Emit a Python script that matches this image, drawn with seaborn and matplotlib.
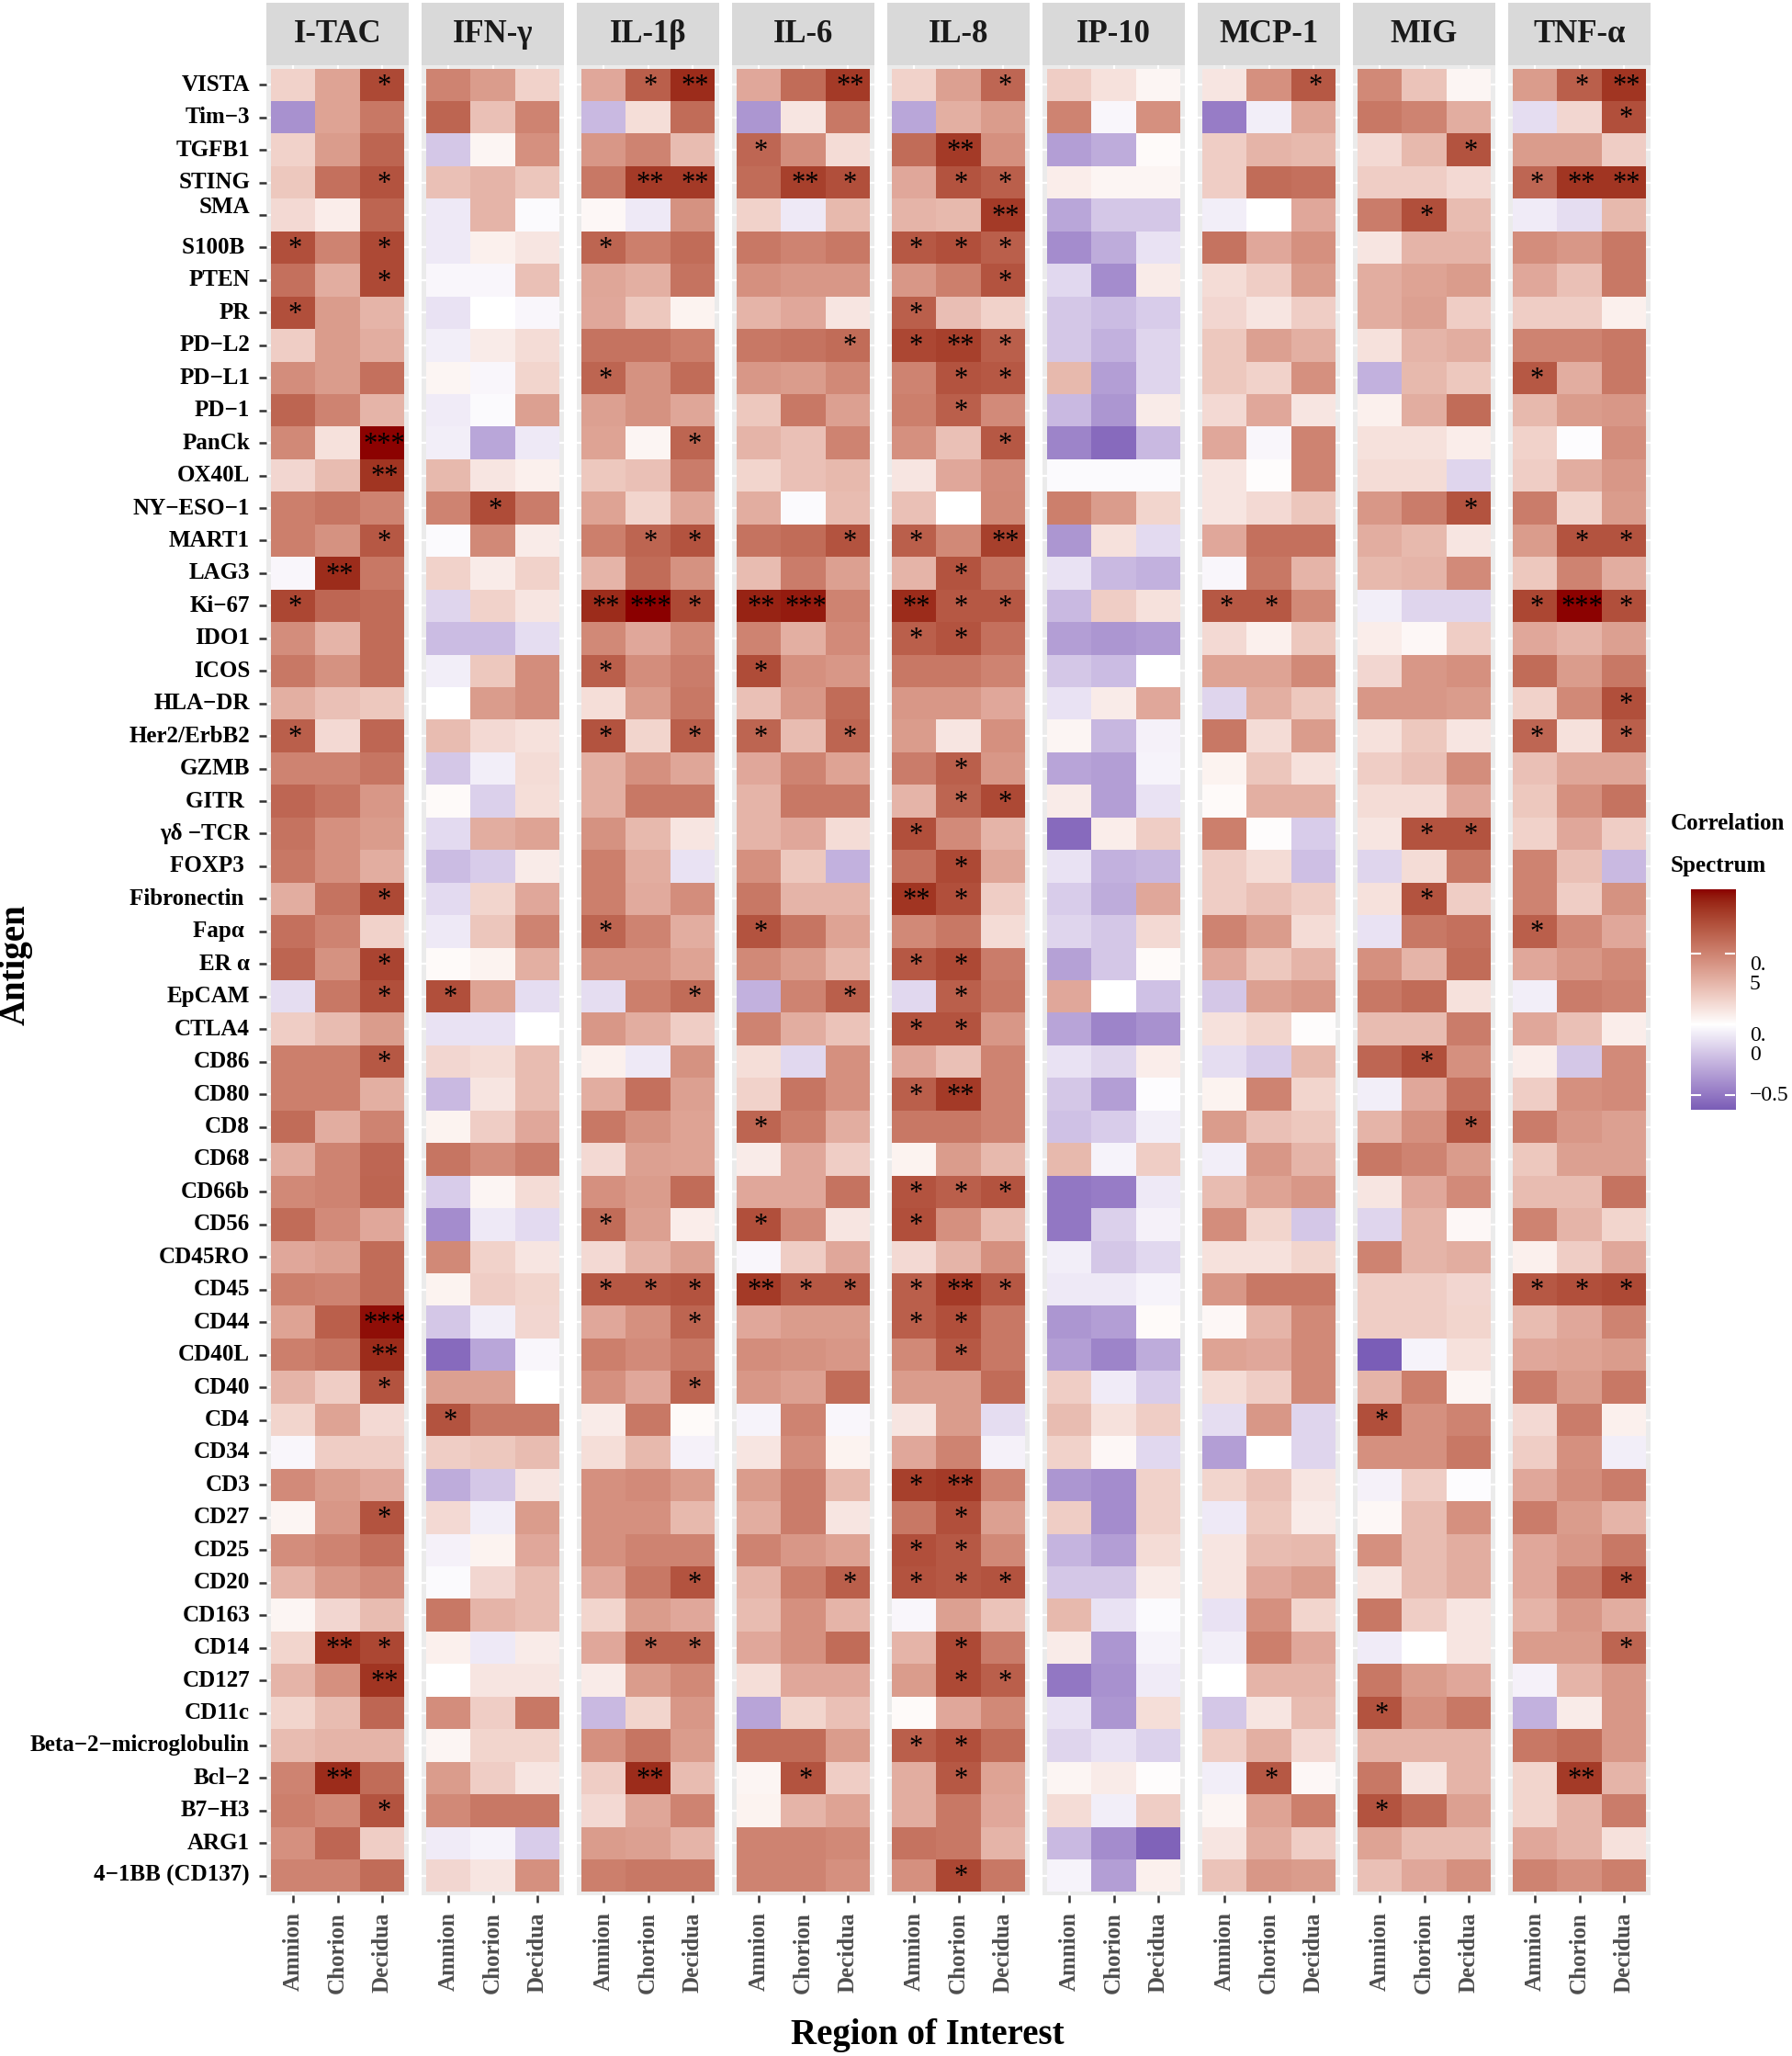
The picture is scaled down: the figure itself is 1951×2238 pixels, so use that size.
import numpy as np
import pandas as pd
import matplotlib
matplotlib.use("Agg")
import matplotlib.pyplot as plt
import matplotlib.colors as mcolors
import matplotlib.transforms as mtransforms
import seaborn as sns

antigens = ["VISTA", "Tim−3", "TGFB1", "STING", "SMA", "S100B ", "PTEN", "PR", "PD−L2", "PD−L1",
            "PD−1", "PanCk", "OX40L", "NY−ESO−1", "MART1", "LAG3", "Ki−67", "IDO1", "ICOS", "HLA−DR",
            "Her2/ErbB2", "GZMB", "GITR ", "γδ −TCR", "FOXP3 ", "Fibronectin ", "Fapα ", "ER α", "EpCAM",
            "CTLA4", "CD86", "CD80", "CD8", "CD68", "CD66b", "CD56", "CD45RO", "CD45", "CD44", "CD40L",
            "CD40", "CD4", "CD34", "CD3", "CD27", "CD25", "CD20", "CD163", "CD14", "CD127", "CD11c",
            "Beta−2−microglobulin", "Bcl−2", "B7−H3", "ARG1", "4−1BB (CD137)"]
regions = ["Amnion", "Chorion", "Decidua"]
cytokines = ["I-TAC", "IFN-γ", "IL-1β", "IL-6", "IL-8", "IP-10", "MCP-1", "MIG", "TNF-α"]

# correlation values, rows top to bottom (VISTA ... 4-1BB)
itac_amnion = [.18, -.40, .18, .22, .15, .72, .58, .72, .20, .46, .63, .48, .16, .52, .52, -.03, .75, .46, .55, .32, .65, .50, .62, .57, .55, .33, .58, .63,
               -.12, .20, .52, .52, .60, .33, .48, .60, .35, .52, .37, .52, .30, .17, -.03, .47, .04, .46, .30, .04, .17, .30, .17, .27, .50, .52, .45, .50]
itac_chorion = [.37, .37, .40, .58, .07, .50, .33, .40, .40, .40, .50, .12, .27, .56, .44, .85, .62, .30, .44, .25, .15, .50, .56, .45, .45, .57, .50, .44,
                .55, .27, .52, .52, .33, .50, .50, .47, .38, .50, .65, .56, .20, .37, .20, .40, .42, .50, .42, .16, .82, .45, .27, .30, .85, .48, .62, .50]
itac_decidua = [.74, .55, .63, .70, .63, .74, .74, .30, .33, .58, .30, .95, .82, .50, .68, .55, .60, .60, .60, .22, .62, .56, .42, .40, .33, .74, .18, .76,
                .72, .40, .68, .32, .50, .62, .63, .35, .60, .60, .93, .85, .70, .15, .20, .35, .70, .58, .47, .27, .75, .82, .62, .30, .60, .70, .20, .60]

ifng_amnion = [.50, .63, -.20, .25, -.08, -.08, -.03, -.10, -.06, .04, -.07, -.06, .28, .50, -.02, .18, -.15, -.24, -.06, .00, .27, -.20, .02, -.13, -.24, -.13, -.08, .02,
               .72, -.10, .16, -.25, .05, .56, -.18, -.42, .48, .05, -.20, -.55, .38, .70, .20, -.30, .15, -.05, -.02, .55, .06, .00, .46, .04, .40, .48, -.07, .16]
ifng_chorion = [.40, .25, .04, .30, .30, .06, -.03, .00, .08, -.03, -.02, -.32, .10, .73, .48, .08, .18, -.24, .22, .40, .15, -.06, -.17, .33, -.18, .17, .23, .05,
                .37, -.10, .14, .10, .20, .46, .04, -.08, .18, .20, -.06, -.32, .38, .55, .22, -.20, -.06, .05, .16, .30, -.08, .10, .20, .17, .20, .55, -.04, .10]
ifng_decidua = [.18, .50, .45, .23, -.02, .10, .25, -.03, .14, .17, .38, -.08, .06, .53, .08, .18, .10, -.12, .46, .46, .12, .14, .13, .37, .08, .35, .50, .32,
                -.12, .00, .27, .27, .35, .53, .14, -.13, .10, .17, .16, -.03, .00, .55, .27, .10, .40, .35, .27, .27, .08, .10, .55, .17, .10, .55, -.18, .45]

il1b_amnion = [.35, -.25, .42, .55, .03, .63, .36, .35, .57, .63, .38, .37, .22, .37, .52, .30, .85, .48, .65, .13, .70, .32, .32, .44, .52, .52, .63, .45,
               -.12, .42, .06, .33, .55, .15, .45, .60, .15, .68, .35, .52, .45, .08, .13, .45, .45, .45, .35, .17, .35, .08, -.25, .45, .20, .15, .40, .52]
il1b_chorion = [.65, .13, .50, .80, -.08, .52, .32, .22, .57, .44, .44, .04, .25, .17, .63, .60, .956, .35, .46, .40, .17, .45, .55, .28, .33, .34, .50, .45,
                .52, .33, -.08, .58, .44, .38, .40, .38, .30, .68, .45, .47, .35, .55, .28, .47, .45, .50, .55, .40, .63, .40, .17, .56, .85, .36, .38, .55]
il1b_decidua = [.85, .60, .27, .80, .44, .60, .57, .05, .52, .60, .36, .63, .53, .36, .70, .44, .74, .48, .53, .55, .65, .36, .55, .10, -.10, .46, .33, .37,
                .60, .20, .44, .38, .37, .37, .60, .07, .38, .70, .63, .55, .63, .02, -.05, .40, .28, .50, .70, .35, .63, .48, .42, .40, .27, .50, .30, .55]

il6_amnion = [.35, -.38, .62, .60, .18, .55, .45, .30, .55, .42, .22, .30, .17, .33, .57, .27, .88, .50, .73, .25, .63, .35, .30, .30, .45, .55, .70, .48,
              -.28, .50, .13, .18, .63, .08, .35, .72, -.03, .80, .35, .46, .42, -.04, .10, .40, .33, .50, .30, .27, .35, .13, -.33, .60, .04, .05, .50, .50]
il6_chorion = [.60, .10, .46, .78, -.08, .50, .42, .35, .57, .40, .55, .25, .25, -.02, .60, .53, .90, .32, .45, .42, .27, .50, .55, .35, .22, .30, .56, .40,
               .50, .33, -.14, .56, .52, .35, .35, .47, .20, .68, .40, .44, .38, .50, .46, .53, .53, .42, .52, .45, .45, .35, .17, .60, .70, .30, .50, .50]
il6_decidua = [.80, .55, .14, .72, .28, .55, .42, .10, .60, .48, .38, .50, .28, .27, .70, .38, .50, .47, .42, .60, .63, .37, .55, .14, -.28, .30, .37, .28,
               .65, .24, .45, .45, .33, .20, .57, .10, .35, .68, .40, .42, .60, -.03, .05, .28, .10, .37, .65, .30, .60, .35, .25, .40, .20, .37, .48, .45]

il8_amnion = [.18, -.32, .60, .35, .30, .68, .42, .65, .75, .50, .52, .45, .10, .25, .65, .30, .85, .65, .55, .42, .40, .53, .30, .72, .58, .82, .48, .68,
              -.14, .70, .35, .65, .55, .05, .70, .72, .15, .65, .65, .48, .40, .10, .35, .78, .55, .72, .70, -.03, .30, .40, .02, .65, .33, .33, .57, .45]
il8_chorion = [.38, .32, .80, .70, .28, .72, .52, .26, .78, .70, .65, .25, .35, .00, .48, .70, .68, .70, .55, .42, .10, .65, .63, .47, .74, .72, .55, .74,
               .65, .70, .25, .80, .55, .40, .65, .45, .30, .80, .72, .68, .40, .40, .50, .80, .72, .68, .68, .38, .74, .74, .35, .72, .68, .55, .55, .75]
il8_decidua = [.62, .40, .45, .65, .80, .65, .70, .18, .65, .68, .47, .68, .47, .48, .78, .56, .68, .58, .50, .35, .45, .42, .74, .30, .36, .20, .14, .53,
               .55, .42, .50, .50, .50, .28, .70, .27, .45, .68, .55, .55, .60, -.12, -.05, .50, .38, .48, .70, .24, .53, .65, .48, .60, .37, .35, .30, .55]

ip10_amnion = [.20, .50, -.35, .07, -.32, -.42, -.14, -.20, -.20, .28, -.25, -.45, -.02, .52, -.38, -.10, -.25, -.35, -.20, -.10, .04, -.33, .08, -.55, -.10, -.18, -.15, -.34,
               .35, -.33, -.10, -.20, -.22, .28, -.50, -.50, -.06, -.08, -.38, -.35, .20, .27, .18, -.38, .20, -.27, -.20, .28, .08, -.50, -.10, -.15, .04, .14, -.25, -.04]
ip10_chorion = [.12, -.03, -.30, .04, -.20, -.30, -.42, -.24, -.28, -.35, -.38, -.55, -.02, .40, .12, -.25, .20, -.38, -.24, .08, -.26, -.35, -.35, .07, -.28, -.30, -.20, -.20,
                .00, -.45, -.15, -.35, -.18, -.04, -.48, -.17, -.20, -.08, -.35, -.45, -.07, .12, .03, -.42, -.42, -.35, -.20, -.10, -.38, -.40, -.38, -.10, .08, -.06, -.42, -.35]
ip10_decidua = [.04, .45, .02, .04, -.20, -.10, .08, -.18, -.15, -.15, .08, -.25, -.02, .17, -.13, -.28, .12, -.36, .00, .35, -.05, -.04, -.10, .20, -.26, .35, .15, .02,
                -.22, -.40, .07, -.01, -.06, .20, -.08, -.05, -.14, -.04, .02, -.30, -.18, .20, -.14, .18, .18, .14, .08, -.02, -.04, -.07, .13, -.16, .01, .20, -.58, .06]

mcp1_amnion = [.10, -.48, .20, .20, -.06, .57, .14, .16, .22, .22, .15, .35, .10, .10, .35, -.03, .68, .15, .37, -.15, .55, .05, .02, .52, .20, .20, .50, .35,
               -.20, .12, -.12, .05, .40, -.06, .27, .46, .12, .42, .03, .37, .14, -.12, -.35, .17, -.08, .10, .10, -.10, -.06, .00, -.20, .20, -.06, .04, .10, .24]
mcp1_chorion = [.45, -.06, .30, .60, .00, .35, .20, .10, .38, .18, .35, -.03, .01, .15, .58, .55, .68, .06, .37, .32, .14, .23, .32, .01, .14, .25, .40, .22,
                .38, .17, -.18, .50, .25, .42, .37, .17, .12, .55, .30, .35, .20, .42, .00, .25, .22, .27, .35, .45, .52, .30, .10, .32, .68, .37, .33, .42]
mcp1_decidua = [.68, .36, .28, .58, .35, .45, .40, .20, .32, .45, .10, .50, .50, .23, .58, .30, .48, .22, .48, .22, .40, .12, .32, -.18, -.23, .20, .14, .30,
                .42, .01, .28, .17, .22, .30, .42, -.20, .17, .55, .48, .48, .48, -.15, -.15, .10, .08, .28, .40, .17, .35, .30, .27, .15, .03, .52, .20, .40]

mig_amnion = [.48, .55, .15, .20, .53, .10, .33, .33, .12, -.28, .06, .12, .14, .42, .33, .28, -.06, .07, .16, .42, .12, .20, .14, .10, -.15, .12, -.10, .45,
              .55, .27, .62, -.06, .30, .55, .10, -.15, .50, .20, .20, -.602, .30, .72, .45, -.05, .03, .45, .10, .55, -.07, .55, .70, .30, .55, .70, .37, .25]
mig_chorion = [.24, .50, .28, .20, .72, .30, .37, .38, .30, .28, .33, .12, .14, .53, .28, .30, -.15, .03, .42, .42, .22, .25, .14, .70, .14, .70, .55, .30,
               .60, .27, .72, .35, .45, .50, .35, .30, .30, .20, .20, -.04, .52, .45, .45, .20, .27, .27, .27, .20, .00, .40, .45, .30, .10, .60, .27, .35]
mig_decidua = [.04, .33, .70, .15, .27, .30, .40, .20, .33, .22, .60, .07, -.15, .70, .10, .47, -.15, .20, .45, .40, .10, .46, .35, .70, .55, .20, .58, .60,
               .12, .53, .45, .58, .68, .40, .47, .03, .33, .16, .17, .12, .04, .50, .55, -.01, .45, .33, .33, .10, .10, .35, .55, .30, .30, .38, .27, .45]

tnfa_amnion = [.40, -.12, .40, .62, -.07, .46, .35, .20, .50, .68, .28, .18, .20, .53, .40, .22, .75, .35, .60, .18, .62, .25, .22, .18, .50, .50, .65, .35,
               -.06, .35, .07, .20, .53, .22, .27, .50, .06, .68, .27, .35, .53, .15, .20, .35, .53, .35, .35, .30, .40, -.05, -.28, .55, .17, .17, .35, .50]
tnfa_chorion = [.65, .16, .40, .82, -.12, .42, .25, .20, .50, .33, .40, -.01, .33, .17, .70, .50, .95, .30, .40, .48, .12, .36, .45, .35, .25, .20, .47, .42,
                .53, .25, -.20, .45, .42, .38, .27, .30, .20, .72, .35, .37, .40, .53, .45, .46, .40, .42, .53, .42, .40, .30, .08, .60, .80, .30, .30, .45]
tnfa_decidua = [.82, .72, .20, .82, .28, .55, .55, .06, .55, .55, .42, .46, .42, .40, .70, .33, .72, .38, .55, .72, .65, .36, .57, .20, -.25, .44, .35, .48,
                .50, .07, .47, .47, .38, .38, .57, .17, .35, .74, .50, .40, .55, .06, -.06, .53, .30, .55, .70, .33, .63, .42, .42, .42, .30, .53, .12, .52]

# significance marks (antigen, region, stars)
itac_stars = [("VISTA", "Decidua", "*"), ("STING", "Decidua", "*"), ("S100B", "Amnion", "*"), ("S100B", "Decidua", "*"),
              ("PTEN", "Decidua", "*"), ("PR", "Amnion", "*"), ("PanCk", "Decidua", "***"), ("OX40L", "Decidua", "**"),
              ("MART1", "Decidua", "*"), ("LAG3", "Chorion", "**"), ("Ki-67", "Amnion", "*"), ("Her2/ErbB2", "Amnion", "*"),
              ("Fibronectin", "Decidua", "*"), ("ER α", "Decidua", "*"), ("EpCAM", "Decidua", "*"), ("CD86", "Decidua", "*"),
              ("CD44", "Decidua", "***"), ("CD40L", "Decidua", "**"), ("CD40", "Decidua", "*"), ("CD27", "Decidua", "*"),
              ("CD14", "Chorion", "**"), ("CD14", "Decidua", "*"), ("CD127", "Decidua", "**"), ("Bcl-2", "Chorion", "**"),
              ("B7-H3", "Decidua", "*")]
ifng_stars = [("NY-ESO-1", "Chorion", "*"), ("EpCAM", "Amnion", "*"), ("CD4", "Amnion", "*")]
il1b_stars = [("VISTA", "Chorion", "*"), ("VISTA", "Decidua", "**"), ("STING", "Chorion", "**"), ("STING", "Decidua", "**"),
              ("S100B", "Amnion", "*"), ("PD-L1", "Amnion", "*"), ("PanCk", "Decidua", "*"), ("MART1", "Chorion", "*"),
              ("MART1", "Decidua", "*"), ("Ki-67", "Amnion", "**"), ("Ki-67", "Chorion", "***"), ("Ki-67", "Decidua", "*"),
              ("ICOS", "Amnion", "*"), ("Her2/ErbB2", "Amnion", "*"), ("Her2/ErbB2", "Decidua", "*"), ("Fapα", "Amnion", "*"),
              ("EpCAM", "Decidua", "*"), ("CD56", "Amnion", "*"), ("CD45", "Amnion", "*"), ("CD45", "Chorion", "*"),
              ("CD45", "Decidua", "*"), ("CD44", "Decidua", "*"), ("CD40", "Decidua", "*"), ("CD20", "Decidua", "*"),
              ("CD14", "Chorion", "*"), ("CD14", "Decidua", "*"), ("Bcl-2", "Chorion", "**")]
il6_stars = [("VISTA", "Decidua", "**"), ("TGFB1", "Amnion", "*"), ("STING", "Chorion", "**"), ("STING", "Decidua", "*"),
             ("PD-L2", "Decidua", "*"), ("MART1", "Decidua", "*"), ("Ki-67", "Amnion", "**"), ("Ki-67", "Chorion", "***"),
             ("ICOS", "Amnion", "*"), ("Her2/ErbB2", "Amnion", "*"), ("Her2/ErbB2", "Decidua", "*"), ("Fapα", "Amnion", "*"),
             ("EpCAM", "Decidua", "*"), ("CD8", "Amnion", "*"), ("CD56", "Amnion", "*"), ("CD45", "Amnion", "**"),
             ("CD45", "Chorion", "*"), ("CD45", "Decidua", "*"), ("CD20", "Decidua", "*"), ("Bcl-2", "Chorion", "*")]
il8_stars = [("VISTA", "Decidua", "*"), ("TGFB1", "Chorion", "**"), ("STING", "Chorion", "*"), ("STING", "Decidua", "*"),
             ("SMA", "Decidua", "**"), ("S100B", "Amnion", "*"), ("S100B", "Chorion", "*"), ("S100B", "Decidua", "*"),
             ("PTEN", "Decidua", "*"), ("PR", "Amnion", "*"), ("PD-L2", "Amnion", "*"), ("PD-L2", "Chorion", "**"),
             ("PD-L2", "Decidua", "*"), ("PD-L1", "Chorion", "*"), ("PD-L1", "Decidua", "*"), ("PD-1", "Chorion", "*"),
             ("PanCk", "Decidua", "*"), ("MART1", "Amnion", "*"), ("MART1", "Decidua", "**"), ("LAG3", "Chorion", "*"),
             ("Ki-67", "Amnion", "**"), ("Ki-67", "Chorion", "*"), ("Ki-67", "Decidua", "*"), ("IDO1", "Amnion", "*"),
             ("IDO1", "Chorion", "*"), ("GZMB", "Chorion", "*"), ("GITR", "Chorion", "*"), ("GITR", "Decidua", "*"),
             ("γδ -TCR", "Amnion", "*"), ("FOXP3", "Chorion", "*"), ("Fibronectin", "Amnion", "**"), ("Fibronectin", "Chorion", "*"),
             ("ER α", "Amnion", "*"), ("ER α", "Chorion", "*"), ("EpCAM", "Chorion", "*"), ("CTLA4", "Amnion", "*"),
             ("CTLA4", "Chorion", "*"), ("CD80", "Amnion", "*"), ("CD80", "Chorion", "**"), ("CD66b", "Amnion", "*"),
             ("CD66b", "Chorion", "*"), ("CD66b", "Decidua", "*"), ("CD56", "Amnion", "*"), ("CD45", "Amnion", "*"),
             ("CD45", "Chorion", "**"), ("CD45", "Decidua", "*"), ("CD44", "Amnion", "*"), ("CD44", "Chorion", "*"),
             ("CD40L", "Chorion", "*"), ("CD3", "Amnion", "*"), ("CD3", "Chorion", "**"), ("CD27", "Chorion", "*"),
             ("CD25", "Amnion", "*"), ("CD25", "Chorion", "*"), ("CD20", "Amnion", "*"), ("CD20", "Chorion", "*"),
             ("CD20", "Decidua", "*"), ("CD14", "Chorion", "*"), ("CD127", "Chorion", "*"), ("CD127", "Decidua", "*"),
             ("Beta-2-microglobulin", "Amnion", "*"), ("Beta-2-microglobulin", "Chorion", "*"), ("Bcl-2", "Chorion", "*"),
             ("4-1BB (CD137)", "Chorion", "*")]
ip10_stars = []
mcp1_stars = [("VISTA", "Decidua", "*"), ("Ki-67", "Amnion", "*"), ("Ki-67", "Chorion", "*"), ("Bcl-2", "Chorion", "*")]
mig_stars = [("TGFB1", "Decidua", "*"), ("SMA", "Chorion", "*"), ("NY-ESO-1", "Decidua", "*"), ("γδ -TCR", "Chorion", "*"),
             ("γδ -TCR", "Decidua", "*"), ("Fibronectin", "Chorion", "*"), ("CD86", "Chorion", "*"), ("CD8", "Decidua", "*"),
             ("CD4", "Amnion", "*"), ("CD11c", "Amnion", "*"), ("B7-H3", "Amnion", "*")]
tnfa_stars = [("VISTA", "Chorion", "*"), ("VISTA", "Decidua", "**"), ("Tim-3", "Decidua", "*"), ("STING", "Amnion", "*"),
              ("STING", "Chorion", "**"), ("STING", "Decidua", "**"), ("PD-L1", "Amnion", "*"), ("MART1", "Chorion", "*"),
              ("MART1", "Decidua", "*"), ("Ki-67", "Amnion", "*"), ("Ki-67", "Chorion", "***"), ("Ki-67", "Decidua", "*"),
              ("HLA-DR", "Decidua", "*"), ("Her2/ErbB2", "Amnion", "*"), ("Her2/ErbB2", "Decidua", "*"), ("Fapα", "Amnion", "*"),
              ("CD45", "Amnion", "*"), ("CD45", "Chorion", "*"), ("CD45", "Decidua", "*"), ("CD20", "Decidua", "*"),
              ("CD14", "Decidua", "*"), ("Bcl-2", "Chorion", "**")]

panel_values = [(itac_amnion, itac_chorion, itac_decidua), (ifng_amnion, ifng_chorion, ifng_decidua),
                (il1b_amnion, il1b_chorion, il1b_decidua), (il6_amnion, il6_chorion, il6_decidua),
                (il8_amnion, il8_chorion, il8_decidua), (ip10_amnion, ip10_chorion, ip10_decidua),
                (mcp1_amnion, mcp1_chorion, mcp1_decidua), (mig_amnion, mig_chorion, mig_decidua),
                (tnfa_amnion, tnfa_chorion, tnfa_decidua)]
panel_stars = [itac_stars, ifng_stars, il1b_stars, il6_stars, il8_stars, ip10_stars, mcp1_stars, mig_stars, tnfa_stars]


# ggplot-like gradient2 (darkblue - white - darkred), interpolated in CIELAB
M = np.array([[0.4124, 0.3576, 0.1805], [0.2126, 0.7152, 0.0722], [0.0193, 0.1192, 0.9505]])
WHITE = np.array([0.95047, 1.0, 1.08883])


def to_lab(color):
    rgb = np.array(mcolors.to_rgb(color))
    lin = np.where(rgb <= 0.04045, rgb / 12.92, ((rgb + 0.055) / 1.055) ** 2.4)
    xyz = M @ lin / WHITE
    f = np.where(xyz > 0.008856, np.cbrt(xyz), 7.787 * xyz + 16 / 116)
    return np.array([116 * f[1] - 16, 500 * (f[0] - f[1]), 200 * (f[1] - f[2])])


def from_lab(lab):
    fy = (lab[0] + 16) / 116
    f = np.array([fy + lab[1] / 500, fy, fy - lab[2] / 200])
    xyz = np.where(f > 0.2069, f ** 3, (f - 16 / 116) / 7.787) * WHITE
    lin = np.clip(np.linalg.inv(M) @ xyz, 0, 1)
    rgb = np.where(lin <= 0.0031308, 12.92 * lin, 1.055 * lin ** (1 / 2.4) - 0.055)
    return np.clip(rgb, 0, 1)


low, mid, high = to_lab("darkblue"), to_lab("white"), to_lab("darkred")
cols = []
for t in np.linspace(0, 1, 511):
    if t < 0.5:
        cols.append(from_lab(low + (mid - low) * t / 0.5))
    else:
        cols.append(from_lab(mid + (high - mid) * (t - 0.5) / 0.5))
cmap = mcolors.ListedColormap(cols)
lim = 0.956
norm = mcolors.Normalize(vmin=-lim, vmax=lim)

plt.rcParams['font.family'] = ['Liberation Serif', 'DejaVu Serif']

W, H = 1951, 2238
fig = plt.figure(figsize=(W / 100, H / 100), dpi=100)


def px_rect(x0, y0, x1, y1):
    return [x0 / W, 1 - y1 / H, (x1 - x0) / W, (y1 - y0) / H]


lookup = {a.replace("−", "-").strip(): i for i, a in enumerate(antigens)}
n = len(antigens)

for k, name in enumerate(cytokines):
    left = 290 + 169 * k
    ax = fig.add_axes(px_rect(left, 71, left + 155, 2063))
    a, c, d = panel_values[k]
    df = pd.DataFrame({"Amnion": a, "Chorion": c, "Decidua": d}, index=antigens)
    sns.heatmap(df, ax=ax, cmap=cmap, norm=norm, cbar=False, xticklabels=True,
                yticklabels=False, linewidths=0)
    ax.set_facecolor('#EBEBEB')
    ax.set_xlim(-0.1, 3.1)
    ax.set_ylim(n + 0.1, -0.1)
    ax.set_yticks(np.arange(n) + 0.5)
    ax.set_yticklabels([])
    ax.set_xticks(np.arange(3) + 0.5)
    ax.set_xticklabels(regions, rotation=90, fontsize=18, fontweight='bold', color='#4D4D4D')
    ax.set_xlabel('')
    ax.set_ylabel('')
    ax.set_axisbelow(True)
    ax.grid(True, color='white', linewidth=1.6)
    for s in ax.spines.values():
        s.set_visible(False)
    ax.tick_params(axis='x', length=6, width=1.8, color='#333333', pad=7)
    if k == 0:
        ax.tick_params(axis='y', length=5.8, width=1.8, color='#333333', labelleft=False)
        trans = mtransforms.blended_transform_factory(fig.transFigure, ax.transData)
        for i, lab in enumerate(antigens):
            y = i + 0.5 - (0.25 if lab == "SMA" else 0)
            ax.text(272 / W, y, lab, transform=trans, ha='right', va='center',
                    fontsize=18, fontweight='bold', color='black')
    else:
        ax.tick_params(axis='y', length=0)

    for ant, reg, st in panel_stars[k]:
        ax.text(regions.index(reg) + 0.55, lookup[ant] + 0.56, st, ha='center', va='center',
                fontsize=22, color='black', zorder=5)

    sax = fig.add_axes(px_rect(left, 3, left + 155, 71))
    sax.set_facecolor('#D9D9D9')
    sax.set_xticks([])
    sax.set_yticks([])
    for s in sax.spines.values():
        s.set_visible(False)
    sax.text(0.5, 0.5, name, ha='center', va='center', fontsize=25, fontweight='bold',
             color='#1A1A1A', transform=sax.transAxes)

# axis titles
fig.text(17 / W, 1 - 1050 / H, 'Antigen', rotation=90, ha='center', va='center',
         fontsize=28, fontweight='bold')
fig.text(1010 / W, 1 - 2216 / H, 'Region of Interest', ha='center', va='center',
         fontsize=28, fontweight='bold')

# legend
fig.text(1819 / W, 1 - 897 / H, 'Correlation', ha='left', va='center', fontsize=18, fontweight='bold')
fig.text(1819 / W, 1 - 943 / H, 'Spectrum', ha='left', va='center', fontsize=18, fontweight='bold')
lo, hi = -0.602, 0.956
cax = fig.add_axes(px_rect(1841, 968, 1889, 1208))
grad = np.linspace(lo, hi, 512)[:, None]
cax.imshow(grad, aspect='auto', origin='lower', extent=[0, 1, lo, hi], cmap=cmap, norm=norm)
cax.set_xlim(0, 1)
cax.set_ylim(lo, hi)
cax.axis('off')
for v in (0.5, 0.0, -0.5):
    cax.plot([0, 0.2], [v, v], color='white', lw=1.5)
    cax.plot([0.8, 1], [v, v], color='white', lw=1.5)
ctrans = mtransforms.blended_transform_factory(cax.transAxes, cax.transData)
cax.text(1.33, 0.49, '0.\n5', transform=ctrans, ha='left', va='top', fontsize=17, linespacing=1.0)
cax.text(1.33, -0.01, '0.\n0', transform=ctrans, ha='left', va='top', fontsize=17, linespacing=1.0)
cax.text(1.33, -0.5, '−0.5', transform=ctrans, ha='left', va='center', fontsize=17)

fig.savefig('out.png', dpi=100)
